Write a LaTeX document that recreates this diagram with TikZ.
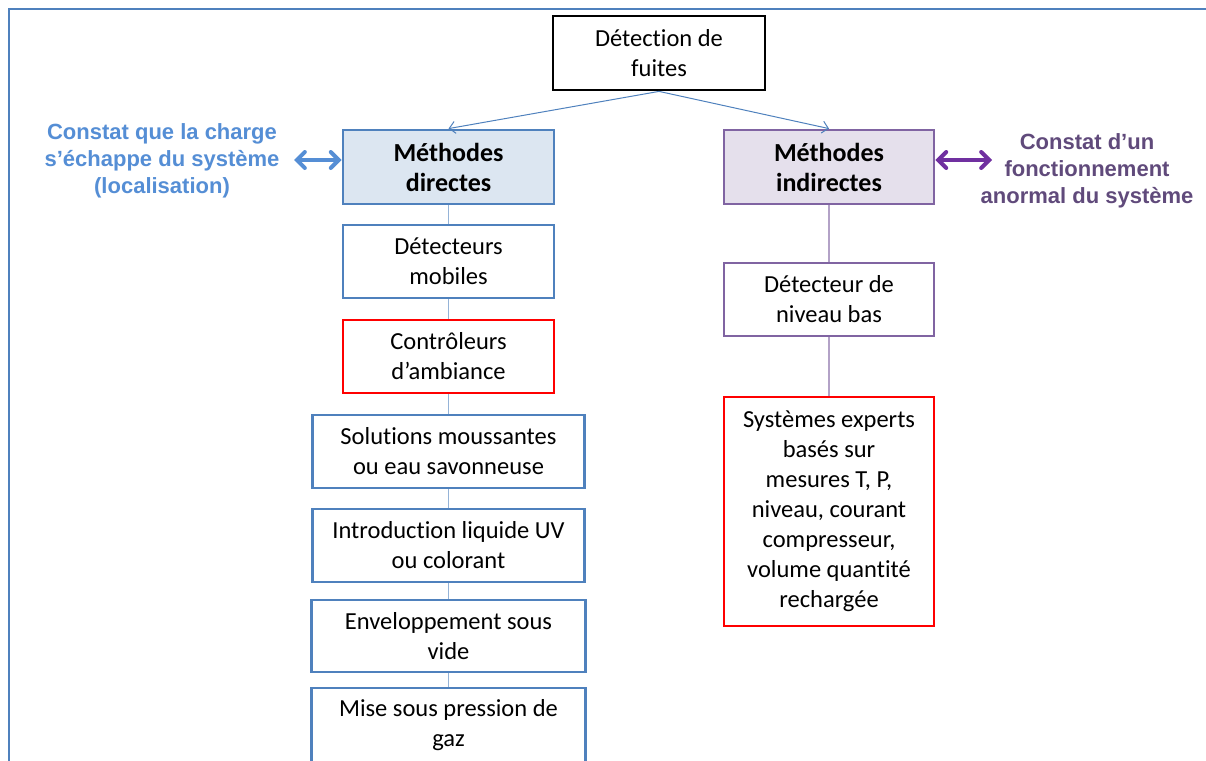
\documentclass[tikz,border=0pt]{standalone}
\usepackage{fontspec}
\setmainfont{Carlito}[Ligatures=NoCommon]
\newfontfamily\lsans{Liberation Sans}
\usetikzlibrary{arrows.meta}
\definecolor{frameblue}{RGB}{79,129,189}
\definecolor{txtblue}{RGB}{85,142,213}
\definecolor{lineblue}{RGB}{149,179,215}
\definecolor{fillblue}{RGB}{220,230,241}
\definecolor{boxpurple}{RGB}{128,100,162}
\definecolor{fillpurple}{RGB}{229,224,236}
\definecolor{linepurple}{RGB}{179,162,199}
\definecolor{txtpurple}{RGB}{96,74,123}
\definecolor{arrpurple}{RGB}{112,48,160}
\definecolor{boxred}{RGB}{255,0,0}
\tikzset{
  box/.style={draw, line width=2.8pt, align=center, inner sep=0pt,
    font=\fontsize{24.5}{30}\selectfont},
  blbox/.style={box, draw=frameblue},
  pubox/.style={box, draw=boxpurple},
  rdbox/.style={box, draw=boxred},
  headbox/.style={box, font=\fontsize{26}{30}\selectfont\bfseries},
  conn/.style={draw=frameblue, line width=1pt, -{Straight Barb[length=6pt,width=12pt]}},
  vblue/.style={draw=lineblue, line width=1.5pt},
  vpurple/.style={draw=linepurple, line width=1.5pt},
  lbl/.style={align=center, font=\lsans\bfseries\fontsize{22}{27}\selectfont},
  dbl/.style={line width=4pt, {Straight Barb[length=8pt,width=16pt,line cap=round]}-{Straight Barb[length=8pt,width=16pt,line cap=round]}},
}
\begin{document}
\begin{tikzpicture}[x=1pt,y=-1pt]
\useasboundingbox (0,0) rectangle (1206,760);
\draw[frameblue, line width=2.5pt] (9,770) -- (9,9) -- (1215,9);

\node[box, draw=black, minimum width=212pt, minimum height=74pt] (top) at (659,53) {Détection de\\fuites};
\node[headbox, draw=frameblue, fill=fillblue, minimum width=211pt, minimum height=74pt] (dir) at (448.5,167) {Méthodes\\directes};
\node[headbox, draw=boxpurple, fill=fillpurple, minimum width=210pt, minimum height=74pt] (ind) at (829,167) {Méthodes\\indirectes};

\node[blbox, minimum width=211pt, minimum height=73pt] (d1) at (448.5,261.5) {Détecteurs\\mobiles};
\node[rdbox, minimum width=211pt, minimum height=73pt] (d2) at (448.5,356.5) {Contrôleurs\\d’ambiance};
\node[blbox, minimum width=272pt, minimum height=73pt] (d3) at (448.5,451.5) {Solutions moussantes\\ou eau savonneuse};
\node[blbox, minimum width=272pt, minimum height=73pt] (d4) at (448.5,545.5) {Introduction liquide UV\\ou colorant};
\node[blbox, minimum width=274pt, minimum height=72pt] (d5) at (448.5,636) {Enveloppement sous\\vide};
\node[blbox, minimum width=274pt, minimum height=74pt] (d6) at (448.5,725) {Mise sous pression de\\gaz};

\node[pubox, minimum width=210pt, minimum height=73pt] (i1) at (829,299.5) {Détecteur de\\niveau bas};
\node[rdbox, minimum width=210pt, minimum height=229pt] (i2) at (829,511.5) {Systèmes experts\\basés sur\\mesures T, P,\\niveau, courant\\compresseur,\\volume quantité\\rechargée};

\draw[conn] (top.south) -- (dir.north);
\draw[conn] (top.south) -- (ind.north);

\draw[vblue] (dir.south) -- (d1.north);
\draw[vblue] (d1.south) -- (d2.north);
\draw[vblue] (d2.south) -- (d3.north);
\draw[vblue] (d3.south) -- (d4.north);
\draw[vblue] (d4.south) -- (d5.north);
\draw[vblue] (d5.south) -- (d6.north);
\draw[vpurple] (ind.south) -- (i1.north);
\draw[vpurple] (i1.south) -- (i2.north);

\node[lbl, text=txtblue] (lleft) at (162,161) {Constat que la charge\\s’échappe du système\\(localisation)};
\node[lbl, text=txtpurple] (lright) at (1087,171) {Constat d’un\\fonctionnement\\anormal du système};

\coordinate (la) at (294,160);
\coordinate (ra) at (992,160);
\draw[dbl, draw=txtblue] (la) -- (la -| dir.west);
\draw[dbl, draw=arrpurple] (ra -| ind.east) -- (ra);
\end{tikzpicture}
\end{document}
